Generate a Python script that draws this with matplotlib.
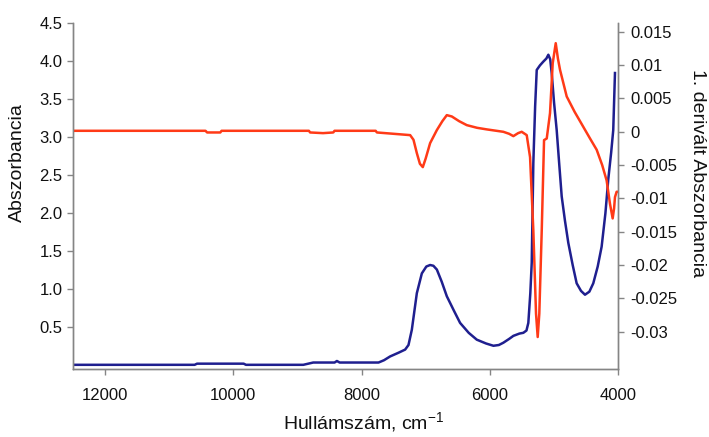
import matplotlib
matplotlib.use("Agg")
import matplotlib.pyplot as plt

plt.rcParams['font.family'] = ['Liberation Sans', 'DejaVu Sans']

# Absorbance spectrum (left axis)
abs_wn = [12500, 10600, 10562, 9836, 9800, 8907, 8752, 8420, 8383, 8340, 7735,
          7650, 7554, 7420, 7320, 7268, 7216, 7138, 7060, 6990, 6931, 6880, 6826,
          6750, 6671, 6560, 6464, 6330, 6204, 6060, 5945, 5860, 5790, 5700, 5634,
          5540, 5479, 5430, 5401, 5370, 5348, 5323, 5295, 5270, 5220, 5167, 5120,
          5089, 5060, 5037, 5000, 4959, 4920, 4881, 4830, 4778, 4710, 4648, 4580,
          4518, 4450, 4389, 4320, 4259, 4200, 4156, 4110, 4078, 4051]
abs_val = [0.01, 0.01, 0.025, 0.025, 0.01, 0.01, 0.04, 0.04, 0.06, 0.04, 0.04,
           0.07, 0.12, 0.17, 0.21, 0.27, 0.47, 0.95, 1.21, 1.30, 1.32, 1.31, 1.26,
           1.10, 0.91, 0.72, 0.56, 0.43, 0.34, 0.29, 0.26, 0.27, 0.30, 0.35, 0.39,
           0.42, 0.43, 0.46, 0.56, 0.95, 1.35, 2.66, 3.40, 3.88, 3.94, 3.99, 4.03,
           4.08, 4.02, 3.84, 3.45, 3.09, 2.65, 2.22, 1.90, 1.61, 1.32, 1.08, 0.98,
           0.93, 0.97, 1.08, 1.30, 1.56, 2.00, 2.44, 2.80, 3.09, 3.84]

# First derivative (right axis)
der_wn = [12500, 10430, 10406, 10200, 10180, 8820, 8800, 8600, 8440, 8420, 7780,
          7760, 7500, 7242, 7190, 7138, 7090, 7045, 7000, 6931, 6826, 6740, 6671,
          6593, 6480, 6360, 6200, 6048, 5790, 5700, 5634, 5560, 5504, 5426, 5374,
          5323, 5281, 5255, 5230, 5192, 5156, 5114, 5063, 5021, 4974, 4940, 4907,
          4803, 4680, 4545, 4440, 4336, 4250, 4181, 4129, 4087, 4065, 4051, 4025,
          4000]
der_val = [0.00015, 0.00015, -0.0001, -0.0001, 0.00015, 0.00015, -0.0001,
           -0.0002, -0.0001, 0.00015, 0.00015, -0.0001, -0.0003, -0.0005,
           -0.0012, -0.0032, -0.0048, -0.0053, -0.0040, -0.0017, 0.00026, 0.0016,
           0.0025, 0.0023, 0.0016, 0.0010, 0.0006, 0.00036, 0.0, -0.0003, -0.00065,
           -0.0002, 0.0, -0.0005, -0.0038, -0.0148, -0.0273, -0.0308, -0.0273,
           -0.0148, -0.00125, -0.0010, 0.0028, 0.0103, 0.0133, 0.0110, 0.0093,
           0.0053, 0.0030, 0.00075, -0.0010, -0.0027, -0.0050, -0.0073, -0.0108,
           -0.0130, -0.0115, -0.0098, -0.0090, -0.0090]

left_ticks = [0.5, 1.0, 1.5, 2.0, 2.5, 3.0, 3.5, 4.0, 4.5]
right_ticks = [0.015, 0.01, 0.005, 0, -0.005, -0.01, -0.015, -0.02, -0.025, -0.03]
right_tick_labels = ["0.015", "0.01", "0.005", "0", "-0.005", "-0.01", "-0.015",
                     "-0.02", "-0.025", "-0.03"]
x_ticks = [12000, 10000, 8000, 6000, 4000]

blue = "#1f1f8f"
red = "#ff3a17"
spine_col = "#858585"

fig = plt.figure(figsize=(7.09, 4.37), dpi=100)
ax = fig.add_axes([0.1025, 0.1556, 0.7695, 0.7924])
ax2 = ax.twinx()

ax.plot(abs_wn, abs_val, color=blue, lw=1.8, solid_joinstyle='round')
ax2.plot(der_wn, der_val, color=red, lw=1.8, solid_joinstyle='round')

ax.set_xlim(12500, 4000)
ax.set_ylim(-0.045, 4.5)
ax2.set_ylim(-0.0356, 0.01637)

ax.set_xticks(x_ticks)
ax.set_xticklabels([str(t) for t in x_ticks])
ax.set_yticks(left_ticks)
ax.set_yticklabels(["%.1f" % t for t in left_ticks])
ax2.set_yticks(right_ticks)
ax2.set_yticklabels(right_tick_labels)

for a in (ax, ax2):
    a.spines['top'].set_visible(False)
    for s in ('left', 'right', 'bottom'):
        a.spines[s].set_color(spine_col)
        a.spines[s].set_linewidth(1.0)
    a.tick_params(direction='out', length=4.5, width=1.0, color=spine_col,
                  labelsize=12, labelcolor='#111111')
ax.tick_params(axis='y', pad=3)
ax.tick_params(axis='x', pad=9)
ax2.tick_params(axis='y', pad=4)

ax.set_ylabel("Abszorbancia", fontsize=14, color='#111111', va='center', ha='center')
ax.yaxis.set_label_coords(-0.102, 0.595)
ax2.set_ylabel("1. derivált Abszorbancia", fontsize=14, color='#111111',
               rotation=270, va='center', ha='center')
ax2.yaxis.set_label_coords(1.145, 0.565)
ax.set_xlabel(r"Hullámszám, cm$^{\mathregular{-1}}$", fontsize=14, color='#111111',
              va='center', ha='center')
ax.xaxis.set_label_coords(0.534, -0.155)

fig.savefig("out.png", dpi=100)
